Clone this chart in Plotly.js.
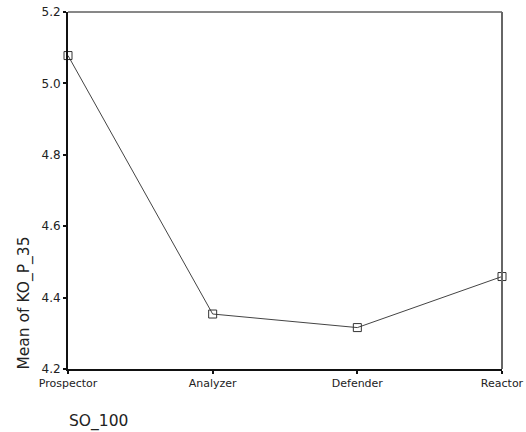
<!DOCTYPE html>
<html>
<head>
<meta charset="utf-8">
<script src="https://cdn.plot.ly/plotly-3.0.1.min.js"></script>
<style>html,body{margin:0;padding:0;background:#fff}#chart{width:526px;height:432px}</style>
</head>
<body>
<div id="chart"></div>
<script>
var categories = ["Prospector", "Analyzer", "Defender", "Reactor"];
var means = [5.078, 4.354, 4.316, 4.459];
var yTicks = [4.2, 4.4, 4.6, 4.8, 5.0, 5.2];
var yTickText = ["4.2", "4.4", "4.6", "4.8", "5.0", "5.2"];

var trace = {
  x: categories,
  y: means,
  type: "scatter",
  mode: "lines+markers",
  line: {color: "#444", width: 1},
  marker: {symbol: "square-open", size: 8, color: "#333", line: {width: 1}},
  cliponaxis: false,
  hoverinfo: "none"
};

var font = {family: "DejaVu Sans, Arial, sans-serif", color: "#222", size: 11};

var layout = {
  width: 526, height: 432,
  margin: {l: 68, r: 24, t: 12, b: 63},
  paper_bgcolor: "#fff", plot_bgcolor: "#fff",
  showlegend: false,
  font: font,
  xaxis: {
    type: "category",
    range: [0, 3],
    showgrid: false, zeroline: false,
    showline: true, linecolor: "#111", linewidth: 2,
    ticks: "outside", ticklen: 3, tickwidth: 2, tickcolor: "#111",
    tickfont: {family: font.family, size: 11, color: "#222"},
    fixedrange: true
  },
  yaxis: {
    range: [4.2, 5.2],
    tickvals: yTicks, ticktext: yTickText,
    showgrid: false, zeroline: false,
    showline: true, linecolor: "#111", linewidth: 2,
    ticks: "outside", ticklen: 3, tickwidth: 2, tickcolor: "#111",
    tickfont: {family: font.family, size: 12, color: "#222"},
    fixedrange: true
  },
  shapes: [
    {type: "line", xref: "paper", yref: "paper", x0: 0, x1: 1, y0: 1, y1: 1, line: {color: "#111", width: 1}},
    {type: "line", xref: "paper", yref: "paper", x0: 1, x1: 1, y0: 0, y1: 1, line: {color: "#666", width: 2}}
  ],
  annotations: [
    {text: "SO_100", xref: "paper", yref: "paper", x: 0.07, y: -0.146, xanchor: "center", yanchor: "middle",
     showarrow: false, font: {family: font.family, size: 15.5, color: "#222"}},
    {text: "Mean of KO_P_35", xref: "paper", yref: "paper", x: -0.1, y: 0.185, xanchor: "center", yanchor: "middle",
     textangle: -90, showarrow: false, font: {family: font.family, size: 15.5, color: "#222"}}
  ]
};

Plotly.newPlot("chart", [trace], layout, {displayModeBar: false, staticPlot: true});
</script>
</body>
</html>
